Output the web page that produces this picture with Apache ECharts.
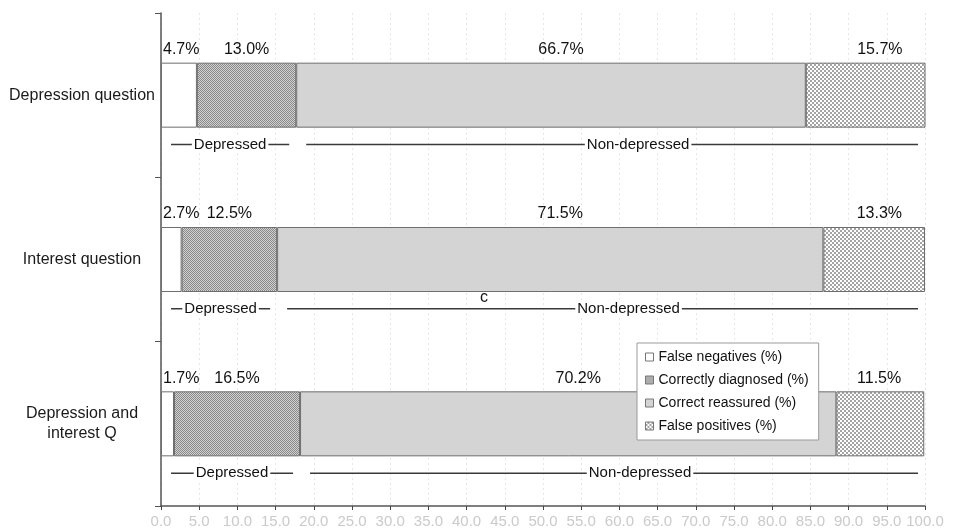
<!DOCTYPE html>
<html>
<head>
<meta charset="utf-8">
<script src="https://cdn.jsdelivr.net/npm/echarts@6/dist/echarts.min.js"></script>
<style>html,body{margin:0;padding:0;background:#fff}#c{width:956px;height:530px}</style>
</head>
<body>
<div id="c"></div>
<script>
var categories = ['Depression question', 'Interest question', 'Depression and\ninterest Q'];
var seriesNames = ['False negatives (%)', 'Correctly diagnosed (%)', 'Correct reassured (%)', 'False positives (%)'];
var falseNegatives = [4.7, 2.7, 1.7];
var correctlyDiagnosed = [13.0, 12.5, 16.5];
var correctReassured = [66.7, 71.5, 70.2];
var falsePositives = [15.7, 13.3, 11.5];
var xTicks = [0, 5, 10, 15, 20, 25, 30, 35, 40, 45, 50, 55, 60, 65, 70, 75, 80, 85, 90, 95, 100];
var groupLabels = ['Depressed', 'Non-depressed'];

function makePattern(size, draw) {
  var cv = document.createElement('canvas');
  cv.width = size; cv.height = size;
  var ctx = cv.getContext('2d');
  draw(ctx);
  return { image: cv, repeat: 'repeat' };
}
var darkPattern = makePattern(2, function (ctx) {
  ctx.fillStyle = '#d0d0d0'; ctx.fillRect(0, 0, 2, 2);
  ctx.fillStyle = '#8a8a8a'; ctx.fillRect(0, 0, 1, 1); ctx.fillRect(1, 1, 1, 1);
});
var lightPattern = makePattern(4, function (ctx) {
  ctx.fillStyle = '#a4a4a4'; ctx.fillRect(0, 0, 4, 4);
  ctx.fillStyle = '#ffffff'; ctx.fillRect(0, 0, 2, 2); ctx.fillRect(2, 2, 2, 2);
});

var valueArrays = [falseNegatives, correctlyDiagnosed, correctReassured, falsePositives];
var fills = ['#ffffff', darkPattern, '#d4d4d4', lightPattern];
var labelStyles = [
  { position: [2, -5], align: 'left', verticalAlign: 'bottom' },
  { position: 'top', distance: 5 },
  { position: 'top', distance: 5, offset: [10, 0] },
  { position: ['100%', -5], align: 'right', verticalAlign: 'bottom', offset: [-23, 0] }
];

var barSeries = valueArrays.map(function (arr, i) {
  var lab = Object.assign({
    show: true, fontSize: 16, color: '#111', fontFamily: 'Liberation Sans, Arial, sans-serif',
    formatter: function (p) { return p.value.toFixed(1) + '%'; }
  }, labelStyles[i]);
  return {
    name: seriesNames[i], type: 'bar', stack: 'total', barWidth: 65,
    data: arr,
    itemStyle: { color: fills[i], borderColor: '#6e6e6e', borderWidth: 1 },
    label: lab,
    emphasis: { disabled: true },
    z: 3
  };
});

// bracket data: [start, end, categoryIndex, labelIndex]
var bracketData = [];
categories.forEach(function (c, k) {
  var dep = falseNegatives[k] + correctlyDiagnosed[k];
  bracketData.push([0, dep, k, 0]);
  bracketData.push([dep, 100, k, 1]);
});

var bracketSeries = {
  type: 'custom',
  data: bracketData,
  encode: { x: [0, 1], y: 2 },
  z: 4,
  silent: true,
  renderItem: function (params, api) {
    var s = api.coord([api.value(0), api.value(2)]);
    var e = api.coord([api.value(1), api.value(2)]);
    var band = api.size([0, 1])[1];
    var y = s[1] + band * 0.3;
    var li = api.value(3);
    var x1 = s[0] + 10, x2 = e[0] - 7;
    var tx = (x1 + x2) / 2 + (li === 1 ? 26 : 0);
    return {
      type: 'group',
      children: [
        { type: 'line', shape: { x1: x1, y1: y, x2: x2, y2: y }, style: { stroke: '#3a3a3a', lineWidth: 1.5 } },
        { type: 'text', x: tx, y: y, style: {
          text: groupLabels[li], fill: '#111', fontSize: 15, fontFamily: 'Liberation Sans, Arial, sans-serif',
          align: 'center', verticalAlign: 'middle', backgroundColor: '#fff', padding: [1, 2]
        } }
      ]
    };
  }
};

var chart = echarts.init(document.getElementById('c'));
chart.setOption({
  animation: false,
  backgroundColor: '#fff',
  textStyle: { fontFamily: 'Liberation Sans, Arial, sans-serif' },
  grid: { left: 161, right: 31, top: 13, bottom: 24, containLabel: false },
  legend: {
    data: seriesNames,
    orient: 'vertical',
    left: 637, top: 343,
    padding: [7, 10, 7, 8],
    itemGap: 9,
    itemWidth: 8, itemHeight: 8,
    backgroundColor: '#fff',
    borderColor: '#9a9a9a', borderWidth: 1,
    textStyle: { fontSize: 14, color: '#111', padding: [0, 0, 0, 0] },
    icon: 'rect',
    itemStyle: { borderColor: '#777', borderWidth: 1 },
    selectedMode: false
  },
  xAxis: {
    type: 'value', min: 0, max: 100, interval: 5,
    axisLine: { show: true, lineStyle: { color: '#555', width: 1.5 } },
    axisTick: { show: true, length: 4, lineStyle: { color: '#444' } },
    axisLabel: {
      color: '#cacaca', fontSize: 15, margin: 8,
      formatter: function (v) { return xTicks.indexOf(v) >= 0 ? v.toFixed(1) : ''; }
    },
    splitLine: { show: true, lineStyle: { color: '#e6e6e6', type: [2, 3] } }
  },
  yAxis: {
    type: 'category', data: categories, inverse: true,
    axisLine: { show: true, lineStyle: { color: '#555', width: 1.5 } },
    axisTick: { show: true, length: 6, lineStyle: { color: '#555' } },
    axisLabel: { color: '#1a1a1a', fontSize: 16, align: 'center', margin: 79, lineHeight: 20 },
    splitLine: { show: false }
  },
  graphic: [
    { type: 'text', left: 480, top: 290, style: { text: 'c', fontSize: 16, fill: '#111', fontFamily: 'Liberation Sans, Arial, sans-serif' } }
  ],
  series: barSeries.concat([bracketSeries])
});
</script>
</body>
</html>
